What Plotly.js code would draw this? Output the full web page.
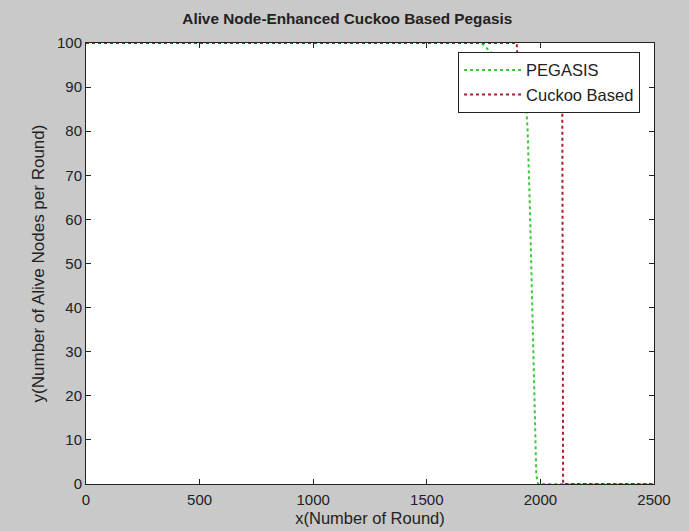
<!DOCTYPE html>
<html>
<head>
<meta charset="utf-8">
<script src="https://cdn.plot.ly/plotly-3.0.1.min.js"></script>
<style>html,body{margin:0;padding:0;background:#c9c9c9;}#chart{width:689px;height:531px;}</style>
</head>
<body>
<div id="chart"></div>
<script>
// PEGASIS alive nodes per round
var pegasisRounds = [0, 1740, 1760, 1780, 1800, 1850, 1900, 1935, 1944, 1955, 1966, 1975, 1982, 1990, 2500];
var pegasisAlive  = [100, 100, 99, 98, 97, 95, 92, 88, 80, 60, 35, 15, 2, 0, 0];
// Cuckoo Based alive nodes per round
var cuckooRounds = [0, 1896, 1900, 2096, 2100, 2500];
var cuckooAlive  = [100, 100, 95, 95, 0, 0];
var xTicks = [0, 500, 1000, 1500, 2000, 2500];
var yTicks = [0, 10, 20, 30, 40, 50, 60, 70, 80, 90, 100];

var traces = [
  {x: pegasisRounds, y: pegasisAlive, name: 'PEGASIS', mode: 'lines',
   line: {color: '#3cc83c', width: 2, dash: 'dot'}},
  {x: cuckooRounds, y: cuckooAlive, name: 'Cuckoo Based', mode: 'lines',
   line: {color: '#a8202c', width: 2, dash: 'dot'}}
];
var axisCommon = {
  showgrid: false, zeroline: false, showline: true, linecolor: '#222', linewidth: 1,
  mirror: 'ticks', ticks: 'inside', ticklen: 5, tickcolor: '#222',
  tickfont: {family: 'Liberation Sans, Arial, sans-serif', size: 15, color: '#222'}
};
var layout = {
  width: 689, height: 531,
  paper_bgcolor: '#c9c9c9', plot_bgcolor: '#ffffff',
  margin: {l: 86, r: 35, t: 43, b: 47},
  font: {family: 'Liberation Sans, Arial, sans-serif', color: '#222'},
  title: {text: '<b>Alive Node-Enhanced Cuckoo Based Pegasis</b>', x: 0.504, xanchor: 'center',
          xref: 'container', y: 0.964, yanchor: 'middle', font: {size: 15.3, color: '#222'}},
  xaxis: Object.assign({}, axisCommon, {range: [0, 2500], tickvals: xTicks, ticklabelstandoff: 2,
    title: {text: 'x(Number of Round)', standoff: 5, font: {size: 16.5}}}),
  yaxis: Object.assign({}, axisCommon, {range: [0, 100], tickvals: yTicks,
    title: {text: 'y(Number of Alive Nodes per Round)', standoff: 8, font: {size: 17}}}),
  showlegend: true,
  legend: {x: 0.655, y: 0.98, xanchor: 'left', yanchor: 'top', bgcolor: '#ffffff',
           bordercolor: '#222', borderwidth: 1, itemwidth: 57,
           font: {size: 16.5, color: '#222'}, tracegroupgap: 0}
};
Plotly.newPlot('chart', traces, layout, {displayModeBar: false, staticPlot: true});
</script>
</body>
</html>
